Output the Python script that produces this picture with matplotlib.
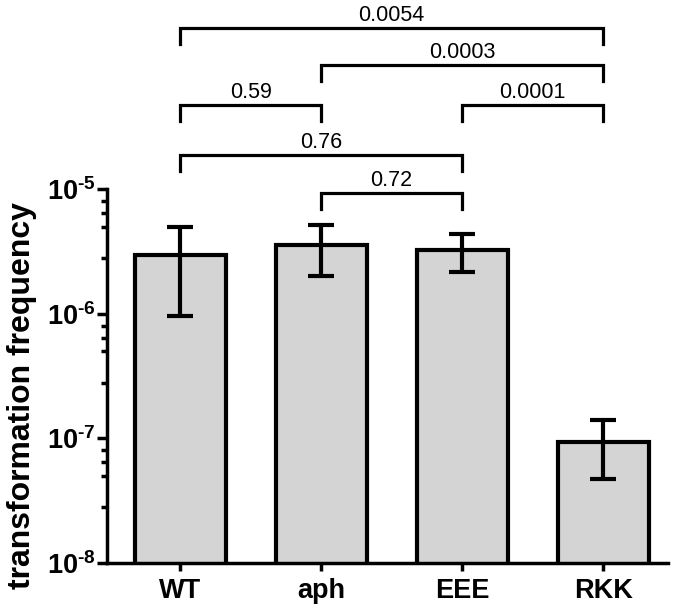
import matplotlib
matplotlib.use("Agg")
import matplotlib.pyplot as plt
import matplotlib.transforms as mtransforms
import numpy as np

plt.rcParams['font.family'] = ['Liberation Sans', 'DejaVu Sans']
plt.rcParams['mathtext.fontset'] = 'custom'
plt.rcParams['mathtext.rm'] = 'Liberation Sans:bold'
plt.rcParams['mathtext.bf'] = 'Liberation Sans:bold'

# data
strains = ['WT', 'aph', 'EEE', 'RKK']
freq = [2.96e-6, 3.56e-6, 3.27e-6, 9.3e-8]
sd = [2.0e-6, 1.57e-6, 1.1e-6, 4.6e-8]

# pairwise comparisons (index a, index b, p-value, bracket height in axes units)
comp_a = [0, 1, 0, 2, 0, 1]
comp_b = [3, 3, 1, 3, 2, 2]
comp_p = ['0.0054', '0.0003', '0.59', '0.0001', '0.76', '0.72']
comp_level = [1.430, 1.331, 1.225, 1.225, 1.091, 0.989]

fig = plt.figure(figsize=(6.8, 6.11), dpi=100)
ax = fig.add_axes([0.1574, 0.0786, 0.825, 0.6121])

x = np.arange(len(strains))
base = 1e-9
ax.bar(x, np.array(freq) - base, bottom=base, width=0.645,
       color='#d4d4d4', edgecolor='black', linewidth=3, zorder=2)
ax.errorbar(x, freq, yerr=sd, fmt='none', ecolor='black',
            elinewidth=3, capsize=9.5, capthick=3, zorder=3)

ax.set_yscale('log')
ax.set_ylim(1e-8, 1e-5)
ax.set_xlim(-0.518, 3.46)

decades = [-8, -7, -6, -5]
ax.set_yticks([10.0 ** d for d in decades])
ax.set_yticklabels([r'$\mathrm{10}^{\text{-%d}}$' % (-d) for d in decades],
                   fontsize=19.5)
minors = []
for d in [-8, -7, -6]:
    for m in [2.8, 5.0, 6.4, 8.0]:
        minors.append(m * 10.0 ** d)
ax.set_yticks(minors, minor=True)
ax.set_yticklabels([], minor=True)

ax.set_xticks(x)
ax.set_xticklabels(strains, fontsize=19.5, fontweight='bold')

for s in ['top', 'right']:
    ax.spines[s].set_visible(False)
for s in ['left', 'bottom']:
    ax.spines[s].set_linewidth(2.5)
ax.tick_params(axis='y', which='major', length=7, width=2.5, pad=1)
ax.tick_params(axis='y', which='minor', length=4, width=2.5)
ax.tick_params(axis='x', which='major', length=6, width=2.5, pad=5)

fig.text(22 / 680, 1 - 396 / 611, 'transformation frequency', rotation=90,
         ha='center', va='center', fontsize=23, fontweight='bold')

# significance brackets
trans = mtransforms.blended_transform_factory(ax.transData, ax.transAxes)
drop = 0.043
for a, b, p, lev in zip(comp_a, comp_b, comp_p, comp_level):
    ax.plot([x[a], x[a], x[b], x[b]], [lev - drop, lev, lev, lev - drop],
            color='black', lw=2.3, transform=trans, clip_on=False,
            solid_joinstyle='miter', zorder=4)
    ax.annotate(p, xy=((x[a] + x[b]) / 2, lev), xycoords=trans,
                xytext=(0, 5), textcoords='offset points',
                ha='center', va='baseline', fontsize=15.5)

fig.savefig('out.png', dpi=100)
